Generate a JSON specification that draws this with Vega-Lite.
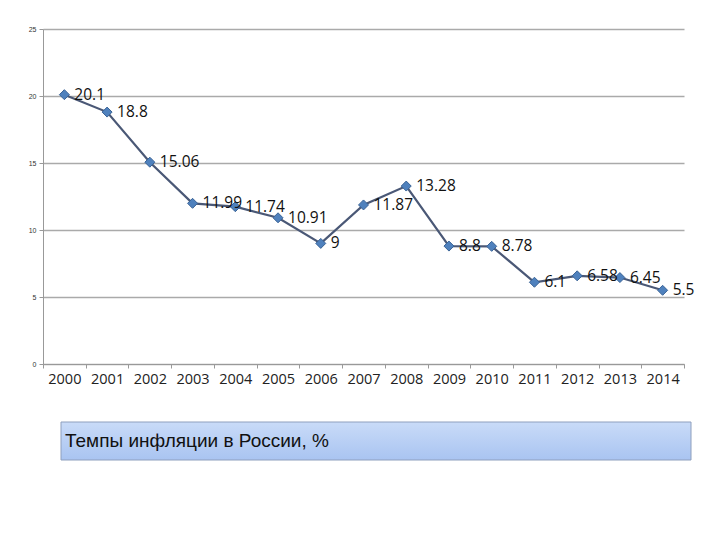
{
  "$schema": "https://vega.github.io/schema/vega-lite/v6.json",
  "background": "white",
  "padding": {"left": 28, "top": 25, "right": 30, "bottom": 10},
  "spacing": 35,
  "config": {"view": {"stroke": null}, "font": "Liberation Sans"},
  "datasets": {
    "infl": [
      {"year": "2000", "rate": 20.1, "label": "20.1"},
      {"year": "2001", "rate": 18.8, "label": "18.8"},
      {"year": "2002", "rate": 15.06, "label": "15.06"},
      {"year": "2003", "rate": 11.99, "label": "11.99"},
      {"year": "2004", "rate": 11.74, "label": "11.74"},
      {"year": "2005", "rate": 10.91, "label": "10.91"},
      {"year": "2006", "rate": 9, "label": "9"},
      {"year": "2007", "rate": 11.87, "label": "11.87"},
      {"year": "2008", "rate": 13.28, "label": "13.28"},
      {"year": "2009", "rate": 8.8, "label": "8.8"},
      {"year": "2010", "rate": 8.78, "label": "8.78"},
      {"year": "2011", "rate": 6.1, "label": "6.1"},
      {"year": "2012", "rate": 6.58, "label": "6.58"},
      {"year": "2013", "rate": 6.45, "label": "6.45"},
      {"year": "2014", "rate": 5.5, "label": "5.5"}
    ],
    "caption": [{"label": "Темпы инфляции в России, %"}]
  },
  "vconcat": [
    {
      "width": 641,
      "height": 335,
      "data": {"name": "infl"},
      "encoding": {
        "x": {
          "field": "year", "type": "ordinal",
          "scale": {"paddingInner": 0, "paddingOuter": 0},
          "axis": {
            "title": null, "labelAngle": 0, "labelFontSize": 14.5, "labelColor": "#222",
            "labelFont": "Open Sans", "domainColor": "#999", "tickColor": "#999",
            "tickSize": 4, "tickBand": "extent", "labelPadding": 4, "grid": false
          }
        },
        "y": {
          "field": "rate", "type": "quantitative",
          "scale": {"domain": [0, 25]},
          "axis": {
            "title": null, "values": [0, 5, 10, 15, 20, 25], "labelFontSize": 7,
            "labelColor": "#333", "domainColor": "#999", "tickColor": "#999",
            "tickSize": 4, "gridColor": "#aaa", "gridWidth": 1.5, "labelPadding": 3
          }
        }
      },
      "layer": [
        {"mark": {"type": "line", "color": "#4a5876", "strokeWidth": 2.2}},
        {"mark": {"type": "point", "shape": "diamond", "filled": true, "size": 100, "color": "#4f81bd", "stroke": "#3a6396", "strokeWidth": 1, "opacity": 1}},
        {"mark": {"type": "text", "align": "left", "baseline": "middle", "dx": 10, "fontSize": 15.5, "font": "Open Sans", "color": "#111"},
         "encoding": {"text": {"field": "label"}}}
      ]
    },
    {
      "spacing": 16,
      "hconcat": [
        {
          "width": 1,
          "height": 38,
          "data": {"name": "caption"},
          "mark": {"type": "rect", "opacity": 0},
          "encoding": {}
        },
        {
          "width": 630,
          "height": 38,
          "data": {"name": "caption"},
          "layer": [
            {"mark": {"type": "rect", "stroke": "#8e9fbd", "strokeWidth": 1,
              "color": {"gradient": "linear", "x1": 0, "y1": 0, "x2": 0, "y2": 1,
                "stops": [{"offset": 0, "color": "#c9dbf8"}, {"offset": 1, "color": "#a9c4f1"}]}},
             "encoding": {}},
            {"mark": {"type": "text", "align": "left", "baseline": "middle", "dx": 4, "fontSize": 19, "font": "Liberation Sans", "color": "#111"},
             "encoding": {
               "text": {"field": "label"},
               "x": {"datum": 0, "type": "quantitative", "scale": {"domain": [0, 1]}, "axis": null}
             }}
          ]
        }
      ]
    }
  ]
}
